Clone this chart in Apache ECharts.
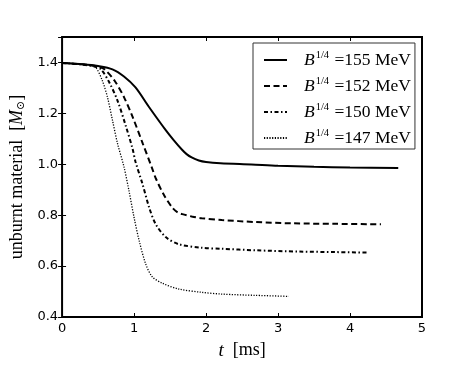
<!DOCTYPE html>
<html>
<head>
<meta charset="utf-8">
<script src="https://cdn.jsdelivr.net/npm/echarts@6/dist/echarts.min.js"></script>
<style>html,body{margin:0;padding:0;background:#fff;}#c{width:469px;height:365px;}</style>
</head>
<body>
<div id="c"></div>
<script>
// ---- data ----
var seriesNames = ['155', '152', '150', '147'];
var xTicks = [0, 1, 2, 3, 4, 5];
var yTicks = [0.4, 0.6, 0.8, 1.0, 1.2, 1.4];

var t155 = [0, 0.29, 0.5, 0.70, 0.86, 1.02, 1.21, 1.44, 1.55, 1.67, 1.73, 1.80, 1.90, 2.0, 2.2, 2.63, 3.0, 3.5, 4.0, 4.67];
var v155 = [1.398, 1.393, 1.386, 1.373, 1.345, 1.302, 1.224, 1.134, 1.095, 1.056, 1.040, 1.027, 1.015, 1.009, 1.004, 0.999, 0.994, 0.990, 0.987, 0.985];

var t152 = [0, 0.3, 0.5, 0.59, 0.73, 0.86, 0.98, 1.12, 1.25, 1.30, 1.41, 1.53, 1.60, 1.67, 1.80, 1.94, 2.22, 2.69, 3.2, 3.8, 4.43];
var v152 = [1.398, 1.392, 1.384, 1.373, 1.328, 1.264, 1.186, 1.082, 0.985, 0.946, 0.882, 0.830, 0.812, 0.804, 0.795, 0.788, 0.781, 0.773, 0.768, 0.766, 0.764];

var t150 = [0, 0.3, 0.45, 0.54, 0.657, 0.77, 0.886, 0.98, 1.02, 1.12, 1.21, 1.30, 1.44, 1.62, 1.94, 2.22, 2.69, 3.3, 3.8, 4.23];
var v150 = [1.398, 1.391, 1.384, 1.373, 1.321, 1.250, 1.150, 1.060, 1.010, 0.920, 0.830, 0.765, 0.714, 0.686, 0.672, 0.668, 0.662, 0.657, 0.655, 0.653];

var t147 = [0, 0.3, 0.4, 0.47, 0.56, 0.63, 0.70, 0.77, 0.86, 0.93, 1.0, 1.07, 1.16, 1.25, 1.39, 1.62, 1.94, 2.22, 2.69, 3.15];
var v147 = [1.398, 1.392, 1.388, 1.380, 1.328, 1.264, 1.173, 1.082, 0.990, 0.895, 0.791, 0.701, 0.610, 0.559, 0.533, 0.510, 0.497, 0.490, 0.485, 0.481];

function zip(t, v) { return t.map(function (x, i) { return [x, v[i]]; }); }

var serif = '"Liberation Serif", "DejaVu Serif", serif';
var sans = '"DejaVu Sans", sans-serif';

var styles = [
  { type: 'solid', width: 2 },
  { type: [6, 3.5], width: 2 },
  { type: [4, 2.5, 1.5, 2.5], width: 2 },
  { type: [1.2, 1.5], width: 1.3 }
];
var datas = [zip(t155, v155), zip(t152, v152), zip(t150, v150), zip(t147, v147)];

var series = seriesNames.map(function (n, i) {
  return {
    name: n, type: 'line', data: datas[i], smooth: 0.3,
    symbol: 'none', showSymbol: false, animation: false,
    lineStyle: { color: '#000', width: styles[i].width, type: styles[i].type },
    itemStyle: { color: '#000' }
  };
});

var chart = echarts.init(document.getElementById('c'), null, { renderer: 'canvas' });
var tickStyle = { show: true, inside: true, length: 4, lineStyle: { color: '#000', width: 1 } };
chart.setOption({
  animation: false,
  backgroundColor: '#fff',
  grid: { left: 59, top: 37, width: 363, height: 284, show: true, borderColor: '#000', borderWidth: 2, backgroundColor: 'transparent' },
  legend: {
    orient: 'vertical', left: 253, top: 43,
    padding: [7, 4, 1, 10],
    itemWidth: 23, itemHeight: 14, itemGap: 6,
    borderColor: '#333', borderWidth: 1, backgroundColor: '#fff',
    itemStyle: { opacity: 0 },
    data: seriesNames,
    formatter: function (n) { return '{s|}{i|B}{sup|1/4}{b| =' + n + ' MeV}'; },
    textStyle: {
      color: '#000', fontFamily: serif, fontSize: 17, lineHeight: 20,
      rich: {
        s: { width: 12 },
        i: { fontFamily: serif, fontStyle: 'italic', fontSize: 17.5, color: '#000', lineHeight: 20 },
        b: { fontFamily: serif, fontSize: 17.5, color: '#000', lineHeight: 20 },
        sup: { fontFamily: serif, fontSize: 10.5, color: '#000', padding: [0, 1, 9, 1], lineHeight: 10 }
      }
    }
  },
  xAxis: [{
    type: 'value', min: 0, max: 5, interval: 1, position: 'bottom',
    axisLine: { show: false }, axisTick: tickStyle, splitLine: { show: false },
    axisLabel: { color: '#000', fontFamily: sans, fontSize: 13, margin: 5 },
    name: '{i|t}  [ms]', nameLocation: 'middle', nameGap: 24,
    nameTextStyle: { color: '#000', fontFamily: serif, fontSize: 18,
      rich: { i: { fontStyle: 'italic', fontFamily: serif, fontSize: 19 } } }
  }, {
    type: 'value', min: 0, max: 5, interval: 1, position: 'top',
    axisLine: { show: false }, axisTick: tickStyle, splitLine: { show: false }, axisLabel: { show: false }
  }],
  yAxis: [{
    type: 'value', min: 0.4, max: 1.5, interval: 0.2, position: 'left',
    axisLine: { show: false }, axisTick: tickStyle, splitLine: { show: false },
    axisLabel: { color: '#000', fontFamily: sans, fontSize: 13, margin: 4, showMaxLabel: false,
      formatter: function (v) { return v.toFixed(1); } },
    name: 'unburnt material  [{i|M}{sub|⊙}]', nameLocation: 'middle', nameGap: 31, nameRotate: 90,
    nameTextStyle: { color: '#000', fontFamily: serif, fontSize: 18,
      rich: { i: { fontStyle: 'italic', fontFamily: serif, fontSize: 18 },
              sub: { fontFamily: serif, fontSize: 11, padding: [8, 0, 0, 0] } } }
  }, {
    type: 'value', min: 0.4, max: 1.5, interval: 0.2, position: 'right',
    axisLine: { show: false }, axisTick: tickStyle, splitLine: { show: false }, axisLabel: { show: false }
  }],
  series: series
});
</script>
</body>
</html>
